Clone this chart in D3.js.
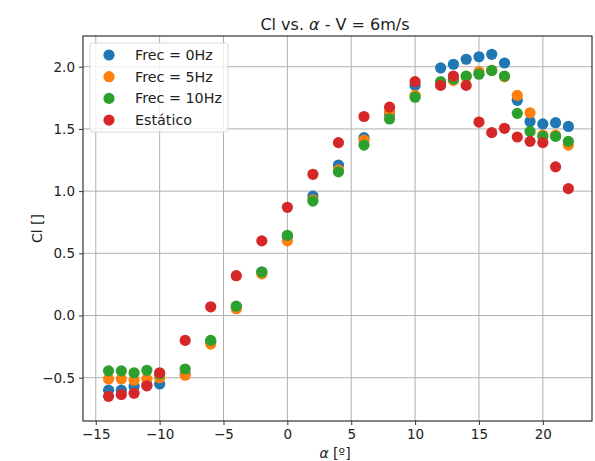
<!DOCTYPE html>
<html>
<head>
<meta charset="utf-8">
<script src="https://cdn.jsdelivr.net/npm/d3@7"></script>
<style>
  body { margin: 0; background: #fff; }
  text { font-family: "DejaVu Sans", sans-serif; fill: #222; }
</style>
</head>
<body>
<script>

// angle of attack [deg]
var alpha = [-14, -13, -12, -11, -10, -8, -6, -4, -2, 0, 2, 4, 6, 8, 10,
             12, 13, 14, 15, 16, 17, 18, 19, 20, 21, 22];

var cl0Hz = [-0.60, -0.60, -0.57, -0.56, -0.55, -0.47, -0.21, 0.07, 0.35, 0.63, 0.96, 1.21, 1.43, 1.62, 1.85,
             1.99, 2.02, 2.06, 2.08, 2.10, 2.03, 1.73, 1.56, 1.54, 1.55, 1.52];
var cl5Hz = [-0.51, -0.51, -0.52, -0.51, -0.50, -0.48, -0.23, 0.055, 0.335, 0.60, 0.93, 1.17, 1.41, 1.64, 1.77,
             1.87, 1.89, 1.92, 1.96, 1.97, 1.92, 1.77, 1.63, 1.45, 1.45, 1.37];
var cl10Hz = [-0.445, -0.445, -0.46, -0.44, -0.47, -0.43, -0.20, 0.075, 0.35, 0.645, 0.92, 1.155, 1.37, 1.58, 1.755,
              1.88, 1.90, 1.925, 1.94, 1.97, 1.925, 1.625, 1.48, 1.44, 1.44, 1.40];
var clEst = [-0.65, -0.635, -0.625, -0.565, -0.46, -0.20, 0.07, 0.32, 0.60, 0.87, 1.135, 1.39, 1.60, 1.675, 1.88,
             1.85, 1.925, 1.85, 1.555, 1.47, 1.505, 1.435, 1.40, 1.39, 1.195, 1.02];

var names = ["Frec = 0Hz", "Frec = 5Hz", "Frec = 10Hz", "Estático"];
var colors = ["#1f77b4", "#ff7f0e", "#2ca02c", "#d62728"];
var xTicks = [-15, -10, -5, 0, 5, 10, 15, 20];
var yTicks = [-0.5, 0.0, 0.5, 1.0, 1.5, 2.0];

var W = 595, H = 461;
var mLeft = 83, mRight = 592, mTop = 36, mBottom = 421;

var svg = d3.select("body").append("svg")
    .attr("width", W)
    .attr("height", H);

var x = d3.scaleLinear().domain([-16.0, 23.85]).range([mLeft, mRight]);
var y = d3.scaleLinear().domain([-0.848, 2.247]).range([mBottom, mTop]);

// grid
svg.append("g").selectAll("line")
    .data(xTicks).enter().append("line")
    .attr("x1", function(d){ return x(d); })
    .attr("x2", function(d){ return x(d); })
    .attr("y1", mTop).attr("y2", mBottom)
    .style("stroke", "#b0b0b0").style("stroke-width", 1);

svg.append("g").selectAll("line")
    .data(yTicks).enter().append("line")
    .attr("y1", function(d){ return y(d); })
    .attr("y2", function(d){ return y(d); })
    .attr("x1", mLeft).attr("x2", mRight)
    .style("stroke", "#b0b0b0").style("stroke-width", 1);

// points, drawn in series order so Estático ends on top
var series = [cl0Hz, cl5Hz, cl10Hz, clEst];

series.forEach(function(vals, k){
  svg.append("g").selectAll("circle")
    .data(vals).enter().append("circle")
    .attr("cx", function(d, i){ return x(alpha[i]); })
    .attr("cy", function(d){ return y(d); })
    .attr("r", 5.6)
    .style("fill", colors[k]);
});

// axes
var xAxis = d3.axisBottom(x).tickValues(xTicks).tickSize(4).tickPadding(4)
    .tickFormat(function(d){ return d < 0 ? "\u2212" + Math.abs(d) : d; });
var yAxis = d3.axisLeft(y).tickValues(yTicks).tickSize(4).tickPadding(4)
    .tickFormat(function(d){ var s = Math.abs(d).toFixed(1); return d < 0 ? "\u2212" + s : s; });

var gx = svg.append("g").attr("transform", "translate(0," + mBottom + ")").call(xAxis);
var gy = svg.append("g").attr("transform", "translate(" + mLeft + ",0)").call(yAxis);

[gx, gy].forEach(function(g){
  g.select(".domain").remove();
  g.selectAll("line").style("stroke", "#333");
  g.selectAll("text").style("font-size", "13.5px").style("fill", "#222")
    .style("font-family", "DejaVu Sans, sans-serif");
});

// frame
svg.append("rect")
    .attr("x", mLeft).attr("y", mTop)
    .attr("width", mRight - mLeft).attr("height", mBottom - mTop)
    .style("fill", "none").style("stroke", "#333").style("stroke-width", 1.2);

// title and labels
var title = svg.append("text")
    .attr("x", 335).attr("y", 30)
    .attr("text-anchor", "middle")
    .style("font-size", "16px");
title.append("tspan").text("Cl vs. ");
title.append("tspan").style("font-style", "italic").text("α");
title.append("tspan").text(" - V = 6m/s");

var xl = svg.append("text")
    .attr("x", 335).attr("y", 458)
    .attr("text-anchor", "middle")
    .style("font-size", "14px");
xl.append("tspan").style("font-style", "italic").text("α");
xl.append("tspan").text(" [º]");

svg.append("text")
    .attr("transform", "translate(42," + ((mTop + mBottom) / 2) + ") rotate(-90)")
    .attr("text-anchor", "middle")
    .style("font-size", "14px")
    .text("Cl []");

// legend
var lg = svg.append("g");
lg.append("rect")
    .attr("x", 90).attr("y", 43)
    .attr("width", 138).attr("height", 89)
    .attr("rx", 3)
    .style("fill", "#fff").style("fill-opacity", 0.8)
    .style("stroke", "#d8d8d8");

names.forEach(function(n, k){
  var cy = 55 + k * 21.7;
  lg.append("circle")
    .attr("cx", 109).attr("cy", cy).attr("r", 5.6)
    .style("fill", colors[k]);
  lg.append("text")
    .attr("x", 135).attr("y", cy + 5)
    .style("font-size", "14.3px")
    .text(n);
});

</script>
</body>
</html>
